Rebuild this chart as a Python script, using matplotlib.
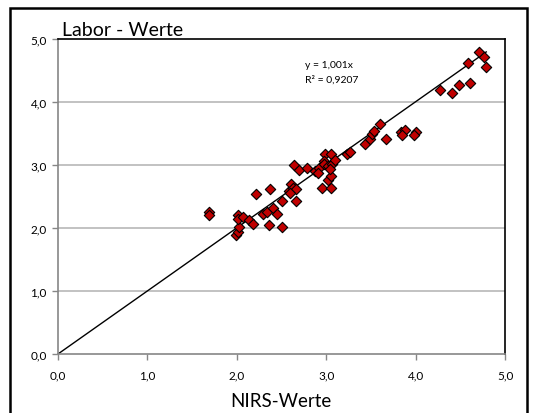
import matplotlib
matplotlib.use("Agg")
import matplotlib.pyplot as plt
from matplotlib.patches import Rectangle
import numpy as np

plt.rcParams['font.family'] = ['Lato', 'DejaVu Sans']

# NIRS values (x) and lab values (y)
nirs = [1.69, 1.69, 1.99, 2.01, 2.03, 2.01, 2.01, 2.07, 2.14, 2.18,
        2.22, 2.29, 2.34, 2.36, 2.37, 2.40, 2.45, 2.50, 2.51, 2.66,
        2.58, 2.61, 2.63, 2.66, 2.60, 2.64, 2.70, 2.78, 2.88, 2.92,
        2.91, 2.95, 3.05, 3.02, 3.05, 2.99, 3.05, 2.97, 2.98, 3.02,
        3.06, 3.10, 3.04, 3.23, 3.27, 3.43, 3.49, 3.51, 3.53, 3.60,
        3.67, 3.84, 3.88, 3.85, 4.00, 3.98, 4.27, 4.41, 4.48, 4.61,
        4.59, 4.71, 4.77, 4.79]
labor = [2.25, 2.20, 1.89, 1.93, 2.01, 2.21, 2.15, 2.17, 2.13, 2.06,
         2.54, 2.22, 2.25, 2.04, 2.62, 2.31, 2.22, 2.02, 2.43, 2.43,
         2.59, 2.70, 2.64, 2.62, 2.55, 3.00, 2.92, 2.95, 2.90, 2.95,
         2.88, 2.63, 2.64, 2.76, 2.82, 3.17, 3.17, 3.07, 3.02, 2.99,
         3.02, 3.08, 2.94, 3.18, 3.21, 3.33, 3.41, 3.49, 3.54, 3.65,
         3.41, 3.52, 3.56, 3.47, 3.52, 3.47, 4.19, 4.15, 4.27, 4.30,
         4.62, 4.79, 4.71, 4.55]

slope = 1.001
r2_label = "R² = 0,9207"
eq_label = "y = 1,001x"
ticks = [0, 1, 2, 3, 4, 5]
tick_labels = ["0,0", "1,0", "2,0", "3,0", "4,0", "5,0"]

W, H = 537, 414
fig = plt.figure(figsize=(W / 100, H / 100), dpi=100)
ax = fig.add_axes([58 / W, (H - 355) / H, (505 - 58) / W, (355 - 40) / H])

ax.set_xlim(0, 5)
ax.set_ylim(0, 5)
ax.set_xticks(ticks)
ax.set_yticks(ticks)
ax.set_xticklabels(tick_labels, fontsize=8.5)
ax.set_yticklabels(tick_labels, fontsize=8.5)
ax.tick_params(axis='both', direction='out', length=4, color='#868686',
               labelcolor='#000000', width=1)
ax.tick_params(axis='x', pad=7)
ax.tick_params(axis='y', pad=4)

for g in ticks[1:-1]:
    ax.axhline(g, color='#b8b8b8', lw=1.2, zorder=0)

for s in ['left', 'bottom']:
    ax.spines[s].set_color('#868686')
    ax.spines[s].set_linewidth(1.2)
for s in ['top', 'right']:
    ax.spines[s].set_color('#000000')
    ax.spines[s].set_linewidth(1.2)

xl = np.array([0, max(nirs)])
ax.plot(xl, slope * xl, color='black', lw=1.0, zorder=2)

ax.scatter(nirs, labor, marker='D', s=28, facecolor='#c00000',
           edgecolor='black', linewidths=0.8, zorder=3)

ax.text(0.553, 0.92, eq_label, transform=ax.transAxes, fontsize=7.5,
        va='center', ha='left')
ax.text(0.553, 0.872, r2_label, transform=ax.transAxes, fontsize=7.5,
        va='center', ha='left')

fig.text(62 / W, (H - 36) / H, "Labor - Werte", fontsize=14,
         ha='left', va='baseline')
fig.text(281 / W, (H - 407) / H, "NIRS-Werte", fontsize=13.5,
         ha='center', va='baseline')

fig.patches.append(Rectangle((10 / W, -0.05), (527 - 10) / W, (H - 9) / H + 0.05,
                             transform=fig.transFigure, fill=False,
                             edgecolor='black', lw=1.8))

fig.savefig("out.png", dpi=100)
